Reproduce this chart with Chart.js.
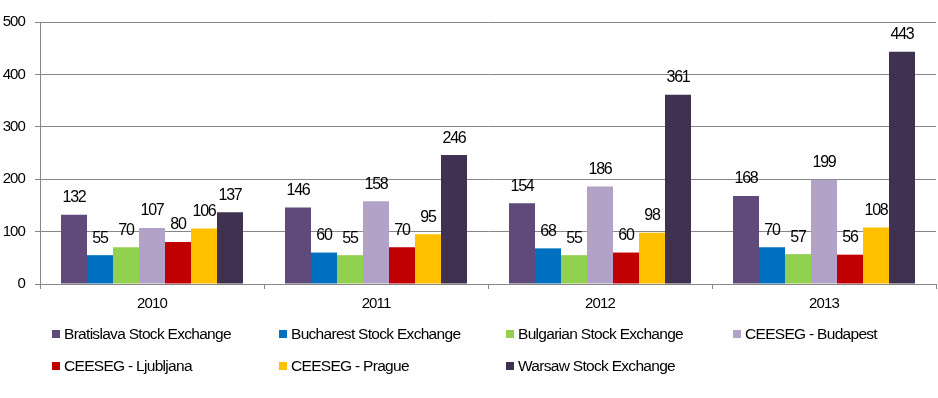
<!DOCTYPE html>
<html>
<head>
<meta charset="utf-8">
<script src="https://cdn.jsdelivr.net/npm/chart.js@4"></script>
<style>
  html, body { margin: 0; padding: 0; background: #fff; }
  #wrap { position: relative; width: 938px; height: 398px; }
  canvas { position: absolute; left: 0; top: 0; }
  .lg { position: absolute; font-family: "Liberation Sans", Arial, sans-serif; font-size: 15.5px; letter-spacing: -0.7px; color: #000; white-space: nowrap; line-height: 18px; }
  .lg span.box { display: inline-block; width: 8px; height: 8px; margin-right: 4px; vertical-align: 1px; }
</style>
</head>
<body>
<div id="wrap">
  <canvas id="c" width="938" height="398"></canvas>
  <div id="legend"></div>
</div>
<script>
const categories = ["2010", "2011", "2012", "2013"];
const seriesNames = ["Bratislava Stock Exchange", "Bucharest Stock Exchange", "Bulgarian Stock Exchange", "CEESEG - Budapest", "CEESEG - Ljubljana", "CEESEG - Prague", "Warsaw Stock Exchange"];
const bratislava = [132, 146, 154, 168];
const bucharest = [55, 60, 68, 70];
const bulgarian = [70, 55, 55, 57];
const budapest = [107, 158, 186, 199];
const ljubljana = [80, 70, 60, 56];
const prague = [106, 95, 98, 108];
const warsaw = [137, 246, 361, 443];
const yTicks = [0, 100, 200, 300, 400, 500];
const colors = ["#604A7B", "#0070C0", "#92D050", "#B3A2C7", "#C00000", "#FFC000", "#403152"];

const seriesValues = [bratislava, bucharest, bulgarian, budapest, ljubljana, prague, warsaw];
const datasets = seriesValues.map((vals, i) => ({
  label: seriesNames[i],
  data: vals,
  backgroundColor: colors[i],
  borderWidth: 0,
  barPercentage: 1.0,
  categoryPercentage: 0.8125
}));

const tightText = {
  id: 'tightText',
  beforeDraw(chart) { chart.ctx.letterSpacing = '-0.9px'; }
};

const valueLabels = {
  id: 'valueLabels',
  afterDatasetsDraw(chart) {
    const ctx = chart.ctx;
    ctx.save();
    ctx.letterSpacing = '-1.2px';
    ctx.font = '16px "Liberation Sans", Arial, sans-serif';
    ctx.fillStyle = '#000';
    ctx.textAlign = 'center';
    ctx.textBaseline = 'middle';
    chart.data.datasets.forEach((ds, di) => {
      const meta = chart.getDatasetMeta(di);
      meta.data.forEach((bar, i) => {
        ctx.fillText(String(ds.data[i]), bar.x, bar.y - 17);
      });
    });
    ctx.restore();
  }
};

const gridColor = '#868686';
const chart = new Chart(document.getElementById('c'), {
  type: 'bar',
  data: { labels: categories, datasets },
  options: {
    responsive: false,
    animation: false,
    layout: { padding: { top: 22, right: 2, bottom: 84, left: 0 } },
    plugins: { legend: { display: false }, tooltip: { enabled: false } },
    scales: {
      x: {
        offset: true,
        grid: { offset: true, drawOnChartArea: false, drawTicks: true, tickLength: 5, color: gridColor },
        border: { color: gridColor },
        ticks: { color: '#000', font: { family: '"Liberation Sans", Arial, sans-serif', size: 15 }, padding: 6 },
        afterFit(scale) { scale.height = 30; }
      },
      y: {
        min: 0, max: 500,
        afterBuildTicks(scale) { scale.ticks = yTicks.map(v => ({ value: v })); },
        grid: { color: gridColor, tickLength: 5 },
        border: { color: gridColor },
        ticks: { color: '#000', font: { family: '"Liberation Sans", Arial, sans-serif', size: 15 }, padding: 10 },
        afterFit(scale) { scale.width = 40; }
      }
    }
  },
  plugins: [tightText, valueLabels]
});

// HTML legend in a grid like the reference
const legendPos = [[52, 334], [279, 334], [506, 334], [733, 334], [52, 366], [279, 366], [506, 366]];
const legendEl = document.getElementById('legend');
chart.data.datasets.forEach((ds, i) => {
  const d = document.createElement('div');
  d.className = 'lg';
  d.style.left = legendPos[i][0] + 'px';
  d.style.top = (legendPos[i][1] - 9) + 'px';
  d.innerHTML = '<span class="box" style="background:' + ds.backgroundColor + '"></span>';
  d.appendChild(document.createTextNode(ds.label));
  legendEl.appendChild(d);
});
</script>
</body>
</html>
